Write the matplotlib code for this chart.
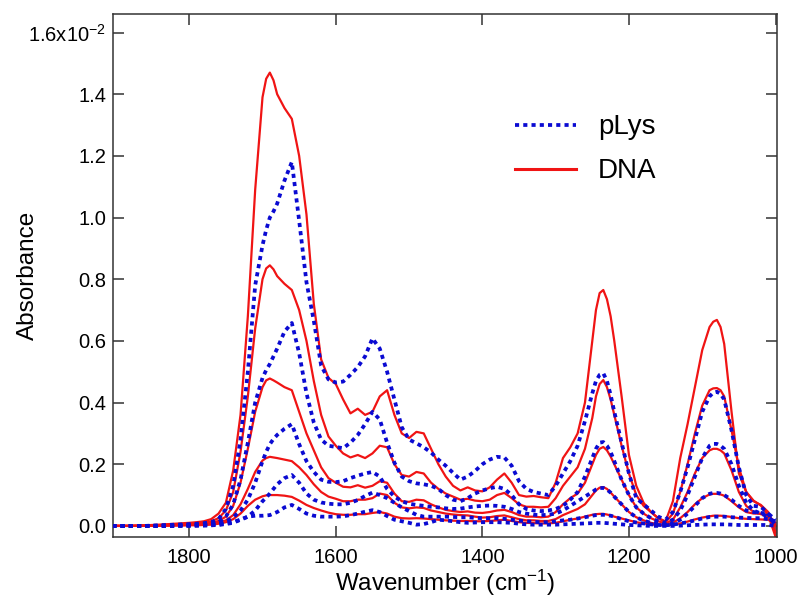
import numpy as np
import matplotlib
matplotlib.use("Agg")
import matplotlib.pyplot as plt
from matplotlib.ticker import FixedLocator, FuncFormatter
from matplotlib.lines import Line2D

plt.rcParams["font.family"] = ["Liberation Sans", "DejaVu Sans"]
plt.rcParams["mathtext.fontset"] = "custom"
plt.rcParams["mathtext.rm"] = "Liberation Sans"
plt.rcParams["mathtext.it"] = "Liberation Sans:italic"
plt.rcParams["mathtext.default"] = "regular"

# Wavenumber sampling (cm^-1)
wavenumber = [
    1905, 1880, 1860, 1840, 1820, 1800, 1790, 1780, 1770, 1760,
    1750, 1740, 1730, 1720, 1710, 1700, 1695, 1690, 1685, 1680, 1670, 1660,
    1650, 1640, 1630, 1620, 1610, 1600, 1590, 1580, 1570, 1560,
    1550, 1540, 1530, 1520, 1510, 1500, 1490, 1480, 1470, 1460,
    1450, 1440, 1430, 1420, 1410, 1400, 1390, 1380, 1370, 1360,
    1350, 1340, 1330, 1320, 1310, 1300, 1290, 1280, 1270, 1260,
    1250, 1245, 1240, 1235, 1230, 1225, 1220, 1210, 1200, 1190, 1180, 1170,
    1160, 1150, 1140, 1130, 1120, 1110, 1100, 1090, 1085, 1080, 1075, 1070,
    1060, 1050, 1040, 1030, 1020, 1010, 1000,
]

# Absorbance spectra in units of 1e-2
dna_a = [
    0.000, 0.000, 0.002, 0.004, 0.007, 0.010, 0.012, 0.015, 0.022, 0.040,
    0.075, 0.180, 0.360, 0.680, 1.090, 1.390, 1.450, 1.470, 1.445, 1.400, 1.355, 1.320,
    1.200, 1.010, 0.720, 0.540, 0.480, 0.460, 0.410, 0.365, 0.380, 0.360,
    0.370, 0.420, 0.440, 0.360, 0.300, 0.285, 0.305, 0.300, 0.250, 0.200,
    0.160, 0.130, 0.115, 0.125, 0.115, 0.112, 0.125, 0.150, 0.170, 0.140,
    0.100, 0.095, 0.097, 0.093, 0.090, 0.140, 0.220, 0.255, 0.300, 0.400,
    0.600, 0.700, 0.755, 0.765, 0.735, 0.680, 0.600, 0.420, 0.230, 0.130, 0.075, 0.045,
    0.025, 0.015, 0.080, 0.220, 0.330, 0.450, 0.570, 0.645, 0.662, 0.668, 0.645, 0.590,
    0.370, 0.170, 0.110, 0.082, 0.066, 0.035, -0.035,
]
dna_b = [
    0.000, 0.000, 0.001, 0.003, 0.005, 0.007, 0.008, 0.010, 0.015, 0.025,
    0.050, 0.110, 0.240, 0.420, 0.640, 0.800, 0.835, 0.845, 0.832, 0.810, 0.785, 0.765,
    0.700, 0.600, 0.470, 0.360, 0.290, 0.260, 0.235, 0.222, 0.230, 0.220,
    0.235, 0.260, 0.255, 0.200, 0.165, 0.160, 0.175, 0.170, 0.140, 0.120,
    0.105, 0.095, 0.085, 0.088, 0.082, 0.080, 0.085, 0.100, 0.107, 0.090,
    0.070, 0.062, 0.062, 0.060, 0.062, 0.090, 0.130, 0.160, 0.190, 0.250,
    0.350, 0.420, 0.460, 0.473, 0.450, 0.410, 0.360, 0.260, 0.170, 0.100, 0.065, 0.045,
    0.025, 0.012, 0.040, 0.110, 0.200, 0.300, 0.390, 0.440, 0.446, 0.447, 0.440, 0.420,
    0.310, 0.190, 0.110, 0.080, 0.068, 0.045, -0.020,
]
dna_c = [
    0.000, 0.000, 0.001, 0.002, 0.003, 0.004, 0.005, 0.007, 0.010, 0.016,
    0.030, 0.065, 0.140, 0.250, 0.370, 0.450, 0.472, 0.478, 0.472, 0.465, 0.450, 0.440,
    0.370, 0.300, 0.245, 0.190, 0.155, 0.140, 0.127, 0.125, 0.132, 0.124,
    0.130, 0.145, 0.140, 0.105, 0.080, 0.078, 0.085, 0.083, 0.070, 0.060,
    0.052, 0.048, 0.045, 0.047, 0.043, 0.042, 0.045, 0.050, 0.052, 0.045,
    0.035, 0.030, 0.030, 0.028, 0.030, 0.045, 0.070, 0.090, 0.105, 0.140,
    0.200, 0.230, 0.250, 0.256, 0.245, 0.225, 0.200, 0.150, 0.100, 0.060, 0.040, 0.025,
    0.015, 0.008, 0.020, 0.060, 0.110, 0.170, 0.220, 0.245, 0.250, 0.250, 0.245, 0.235,
    0.180, 0.110, 0.065, 0.045, 0.038, 0.030, 0.000,
]
dna_d = [
    0.000, 0.000, 0.000, 0.001, 0.002, 0.003, 0.004, 0.005, 0.007, 0.010,
    0.018, 0.035, 0.070, 0.120, 0.175, 0.212, 0.220, 0.224, 0.222, 0.220, 0.215, 0.210,
    0.190, 0.165, 0.135, 0.110, 0.095, 0.088, 0.080, 0.080, 0.085, 0.085,
    0.090, 0.105, 0.100, 0.075, 0.060, 0.057, 0.060, 0.058, 0.050, 0.045,
    0.040, 0.037, 0.035, 0.034, 0.030, 0.027, 0.028, 0.032, 0.034, 0.028,
    0.022, 0.018, 0.018, 0.016, 0.016, 0.022, 0.035, 0.045, 0.055, 0.070,
    0.100, 0.115, 0.124, 0.126, 0.120, 0.108, 0.095, 0.070, 0.045, 0.028, 0.018, 0.010,
    0.005, 0.003, 0.010, 0.025, 0.045, 0.070, 0.090, 0.102, 0.104, 0.104, 0.102, 0.098,
    0.080, 0.060, 0.045, 0.040, 0.040, 0.035, 0.010,
]
dna_e = [
    0.000, 0.000, 0.000, 0.000, 0.001, 0.002, 0.002, 0.003, 0.004, 0.007,
    0.012, 0.022, 0.040, 0.065, 0.085, 0.096, 0.099, 0.100, 0.100, 0.100, 0.098, 0.094,
    0.082, 0.068, 0.058, 0.050, 0.043, 0.038, 0.036, 0.036, 0.038, 0.038,
    0.042, 0.045, 0.040, 0.030, 0.025, 0.024, 0.025, 0.024, 0.022, 0.020,
    0.018, 0.017, 0.016, 0.016, 0.015, 0.015, 0.016, 0.018, 0.020, 0.016,
    0.012, 0.010, 0.009, 0.008, 0.008, 0.010, 0.015, 0.020, 0.024, 0.030,
    0.036, 0.038, 0.039, 0.039, 0.037, 0.034, 0.030, 0.024, 0.018, 0.012, 0.008, 0.005,
    0.003, 0.002, 0.004, 0.008, 0.014, 0.021, 0.027, 0.031, 0.033, 0.033, 0.033, 0.032,
    0.029, 0.025, 0.023, 0.022, 0.021, 0.020, 0.005,
]

plys_a = [
    0.000, 0.000, 0.000, 0.002, 0.004, 0.006, 0.007, 0.009, 0.012, 0.022,
    0.055, 0.130, 0.280, 0.500, 0.780, 0.910, 0.960, 1.000, 1.020, 1.045, 1.120, 1.180,
    0.990, 0.790, 0.665, 0.520, 0.475, 0.465, 0.468, 0.490, 0.515, 0.550,
    0.608, 0.575, 0.500, 0.410, 0.320, 0.280, 0.268, 0.255, 0.238, 0.215,
    0.195, 0.172, 0.150, 0.160, 0.178, 0.200, 0.215, 0.224, 0.222, 0.195,
    0.145, 0.120, 0.110, 0.105, 0.100, 0.130, 0.170, 0.210, 0.260, 0.340,
    0.430, 0.470, 0.490, 0.495, 0.470, 0.425, 0.370, 0.270, 0.170, 0.090, 0.070, 0.050,
    0.030, 0.020, 0.045, 0.110, 0.190, 0.280, 0.370, 0.420, 0.432, 0.435, 0.428, 0.410,
    0.310, 0.190, 0.100, 0.065, 0.062, 0.040, 0.000,
]
plys_b = [
    0.000, 0.000, 0.000, 0.001, 0.002, 0.003, 0.004, 0.005, 0.007, 0.012,
    0.030, 0.070, 0.150, 0.270, 0.400, 0.480, 0.505, 0.525, 0.550, 0.575, 0.630, 0.658,
    0.560, 0.430, 0.335, 0.280, 0.260, 0.256, 0.252, 0.270, 0.295, 0.330,
    0.370, 0.345, 0.270, 0.205, 0.160, 0.145, 0.138, 0.135, 0.130, 0.120,
    0.100, 0.085, 0.080, 0.090, 0.105, 0.115, 0.122, 0.127, 0.120, 0.100,
    0.070, 0.055, 0.050, 0.048, 0.050, 0.055, 0.065, 0.085, 0.110, 0.160,
    0.220, 0.250, 0.270, 0.272, 0.260, 0.240, 0.210, 0.150, 0.100, 0.060, 0.040, 0.025,
    0.015, 0.010, 0.020, 0.050, 0.100, 0.160, 0.220, 0.260, 0.266, 0.266, 0.260, 0.250,
    0.200, 0.130, 0.075, 0.050, 0.040, 0.030, 0.005,
]
plys_c = [
    0.000, 0.000, 0.000, 0.000, 0.001, 0.002, 0.002, 0.003, 0.004, 0.007,
    0.014, 0.028, 0.050, 0.085, 0.140, 0.210, 0.240, 0.265, 0.282, 0.295, 0.315, 0.330,
    0.265, 0.210, 0.175, 0.150, 0.143, 0.142, 0.145, 0.155, 0.163, 0.170,
    0.175, 0.160, 0.120, 0.095, 0.080, 0.072, 0.068, 0.065, 0.062, 0.060,
    0.057, 0.055, 0.056, 0.060, 0.063, 0.065, 0.066, 0.065, 0.062, 0.055,
    0.045, 0.040, 0.036, 0.035, 0.036, 0.040, 0.050, 0.065, 0.080, 0.095,
    0.110, 0.118, 0.123, 0.123, 0.118, 0.108, 0.095, 0.070, 0.045, 0.028, 0.017, 0.010,
    0.005, 0.003, 0.008, 0.020, 0.040, 0.065, 0.090, 0.104, 0.107, 0.107, 0.105, 0.100,
    0.085, 0.065, 0.050, 0.045, 0.042, 0.040, 0.020,
]
plys_d = [
    0.000, 0.000, 0.000, 0.000, 0.000, 0.001, 0.001, 0.002, 0.002, 0.004,
    0.008, 0.013, 0.020, 0.030, 0.050, 0.080, 0.092, 0.105, 0.120, 0.135, 0.155, 0.165,
    0.140, 0.105, 0.085, 0.076, 0.072, 0.070, 0.070, 0.075, 0.084, 0.097,
    0.108, 0.100, 0.090, 0.075, 0.060, 0.048, 0.036, 0.030, 0.030, 0.030,
    0.030, 0.029, 0.028, 0.028, 0.026, 0.025, 0.025, 0.025, 0.023, 0.020,
    0.017, 0.015, 0.013, 0.012, 0.012, 0.015, 0.018, 0.020, 0.024, 0.028,
    0.033, 0.035, 0.036, 0.036, 0.035, 0.033, 0.030, 0.022, 0.015, 0.011, 0.008, 0.005,
    0.003, 0.002, 0.004, 0.008, 0.012, 0.018, 0.024, 0.029, 0.030, 0.030, 0.030, 0.030,
    0.028, 0.027, 0.026, 0.025, 0.025, 0.022, 0.015,
]
plys_e = [
    0.000, 0.000, 0.000, 0.000, 0.000, 0.000, 0.001, 0.001, 0.002, 0.003,
    0.006, 0.010, 0.020, 0.030, 0.033, 0.033, 0.034, 0.035, 0.040, 0.045, 0.060, 0.068,
    0.055, 0.040, 0.033, 0.030, 0.030, 0.030, 0.031, 0.035, 0.040, 0.046,
    0.051, 0.045, 0.032, 0.020, 0.015, 0.010, 0.004, 0.006, 0.012, 0.020,
    0.018, 0.015, 0.012, 0.010, 0.011, 0.012, 0.012, 0.012, 0.011, 0.010,
    0.007, 0.005, 0.004, 0.004, 0.004, 0.004, 0.005, 0.006, 0.007, 0.008,
    0.009, 0.010, 0.010, 0.010, 0.009, 0.008, 0.007, 0.005, 0.003, 0.002, 0.001, 0.000,
    0.000, 0.000, 0.000, 0.001, 0.002, 0.003, 0.004, 0.005, 0.005, 0.005, 0.005, 0.005,
    0.004, 0.003, 0.003, 0.003, 0.003, 0.003, 0.000,
]

dna_series = [dna_a, dna_b, dna_c, dna_d, dna_e]
plys_series = [plys_a, plys_b, plys_c, plys_d, plys_e]

x_ticks = [1800, 1600, 1400, 1200, 1000]
y_ticks = [0.0, 0.2, 0.4, 0.6, 0.8, 1.0, 1.2, 1.4, 1.6]
y_tick_labels = ["0.0", "0.2", "0.4", "0.6", "0.8", "1.0", "1.2", "1.4",
                 r"1.6x10$^{-2}$"]

SCALE = 1e-2
RED = "#f01414"
BLUE = "#0a0ad2"
FRAME = "#333333"

fig = plt.figure(figsize=(8.02, 5.99), dpi=100)
ax = fig.add_axes([0.1409, 0.1035, 0.8279, 0.8731])

wn = np.array(wavenumber)
for s in dna_series:
    ax.plot(wn, np.array(s) * SCALE, color=RED, lw=1.6,
            solid_joinstyle="round", zorder=2)
for s in plys_series:
    ax.plot(wn, np.array(s) * SCALE, color=BLUE, lw=2.7, ls=(0, (1.1, 1.1)),
            dash_capstyle="butt", zorder=3)

ax.set_xlim(1904, 998)
ax.set_ylim(-0.00036, 0.0166)

ax.xaxis.set_major_locator(FixedLocator(x_ticks))
ax.yaxis.set_major_locator(FixedLocator([v * SCALE for v in y_ticks]))
ax.yaxis.set_major_formatter(
    FuncFormatter(lambda v, pos: y_tick_labels[pos]
                  if pos is not None and pos < len(y_tick_labels) else ""))

ax.tick_params(axis="both", which="major", direction="in", length=8, width=1.1,
               color=FRAME, labelsize=14.5, top=True, right=True)
ax.tick_params(axis="x", pad=8)
ax.tick_params(axis="y", pad=5)
for sp in ax.spines.values():
    sp.set_color(FRAME)
    sp.set_linewidth(1.1)

ax.set_xlabel(r"Wavenumber (cm$^{-1}$)", fontsize=17.5, va="center")
ax.xaxis.set_label_coords(0.5, -0.087)
ax.set_ylabel("Absorbance", fontsize=17.5, va="center")
ax.yaxis.set_label_coords(-0.128, 0.5)

handles = [
    Line2D([], [], color=BLUE, lw=2.7, ls=(0, (1.1, 1.1)), dash_capstyle="butt"),
    Line2D([], [], color=RED, lw=2.2),
]
ax.legend(handles, ["pLys", "DNA"], loc="upper left",
          bbox_to_anchor=(0.605, 0.808), frameon=False, fontsize=20,
          handlelength=2.2, handletextpad=0.8, labelspacing=0.65,
          borderpad=0, borderaxespad=0)

fig.savefig("out.png", dpi=100)
